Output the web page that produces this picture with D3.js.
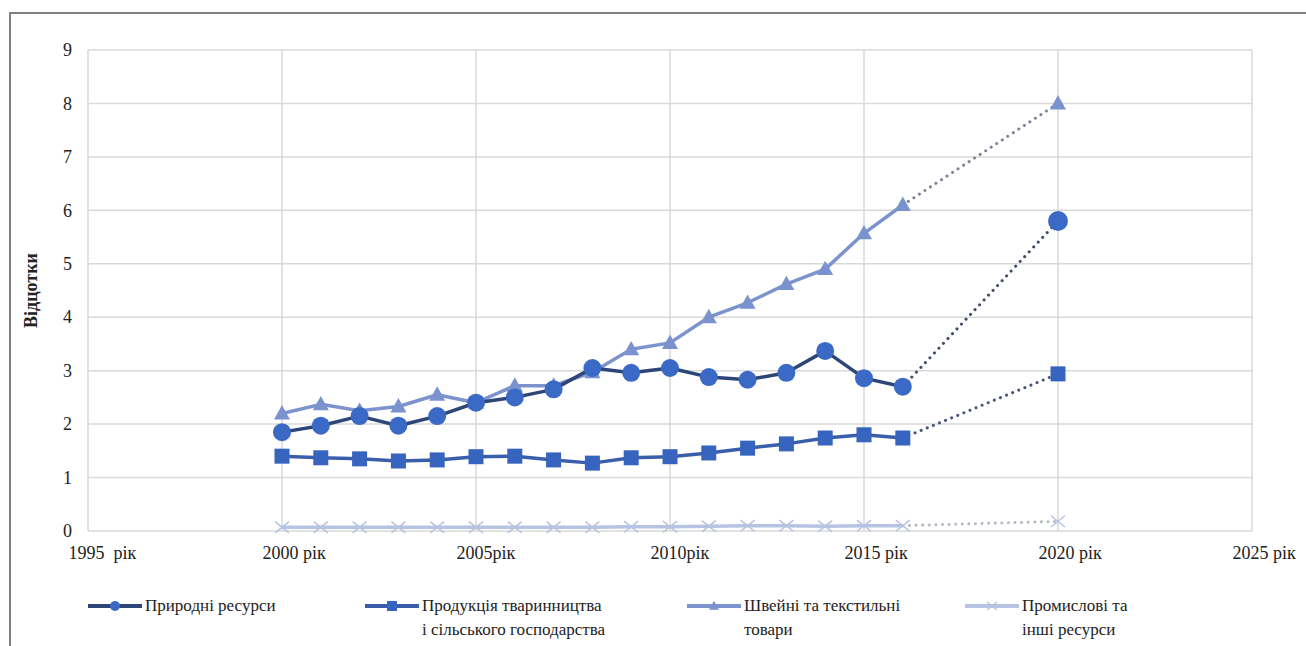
<!DOCTYPE html>
<html>
<head>
<meta charset="utf-8">
<script src="https://cdn.jsdelivr.net/npm/d3@7"></script>
</head>
<body style="margin:0;background:#fff">
<svg id="chart" width="1306" height="646" style="display:block;font-family:'Liberation Serif'"></svg>
<script>
// Observed years and the 2020 forecast point
const years = [2000, 2001, 2002, 2003, 2004, 2005, 2006, 2007, 2008, 2009, 2010, 2011, 2012, 2013, 2014, 2015, 2016];
const forecastYear = 2020;

// Shares, %
const naturalResources = [1.85, 1.97, 2.15, 1.97, 2.15, 2.4, 2.5, 2.65, 3.05, 2.96, 3.05, 2.88, 2.83, 2.96, 3.37, 2.86, 2.7];
const livestockAgri    = [1.40, 1.37, 1.35, 1.31, 1.33, 1.39, 1.40, 1.33, 1.27, 1.37, 1.39, 1.46, 1.55, 1.63, 1.74, 1.80, 1.74];
const textiles         = [2.2, 2.37, 2.25, 2.33, 2.55, 2.4, 2.72, 2.72, 2.97, 3.4, 3.52, 4.0, 4.27, 4.62, 4.9, 5.57, 6.1];
const industrialOther  = [0.07, 0.07, 0.07, 0.07, 0.07, 0.07, 0.07, 0.07, 0.07, 0.08, 0.08, 0.09, 0.1, 0.1, 0.09, 0.1, 0.1];
const forecast2020     = [5.8, 2.94, 8.0, 0.18];

const xTickYears  = [1995, 2000, 2005, 2010, 2015, 2020, 2025];
const xTickLabels = ["1995  рік", "2000 рік", "2005рік", "2010рік", "2015 рік", "2020 рік", "2025 рік"];
const yTicks = [0, 1, 2, 3, 4, 5, 6, 7, 8, 9];
const yTitle = "Відцотки";

const seriesNames = [
  ["Природні ресурси"],
  ["Продукція тваринництва", "і сільського господарства"],
  ["Швейні та текстильні", "товари"],
  ["Промислові та", "інші ресурси"]
];
const seriesValues = [naturalResources, livestockAgri, textiles, industrialOther];

const styles = [
  { line: "#2E4677", fill: "#3B69C6", dot: "#3F4C66", shape: "circle" },
  { line: "#3A5EAA", fill: "#3664BE", dot: "#47577A", shape: "square" },
  { line: "#7C93CD", fill: "#7A92CE", dot: "#7C8498", shape: "triangle" },
  { line: "#B6C3E2", fill: "#B6C3E2", dot: "#B3B8C4", shape: "cross" }
];

const FONT = "Liberation Serif";

const svg = d3.select("#chart");

// Outer frame (top and left edges)
svg.append("path")
  .attr("d", "M10,646 L10,13 L1306,13")
  .attr("fill", "none").attr("stroke", "#808080").attr("stroke-width", 2);

const plot = { left: 88, right: 1252, top: 50, bottom: 531 };
const x = d3.scaleLinear().domain([1995, 2025]).range([plot.left, plot.right]);
const y = d3.scaleLinear().domain([0, 9]).range([plot.bottom, plot.top]);

// Gridlines
const grid = svg.append("g");
grid.selectAll("line.h").data(yTicks).join("line")
  .attr("x1", plot.left).attr("x2", plot.right)
  .attr("y1", d => y(d)).attr("y2", d => y(d))
  .attr("stroke", "#d9d9d9").attr("stroke-width", 1.5);
grid.selectAll("line.v").data(xTickYears).join("line")
  .attr("x1", d => x(d)).attr("x2", d => x(d))
  .attr("y1", plot.top).attr("y2", plot.bottom)
  .attr("stroke", "#d9d9d9").attr("stroke-width", 1.5);

// Y axis labels
const yAxis = d3.axisLeft(y).tickValues(yTicks).tickSize(0).tickPadding(16).tickFormat(d3.format("d"));
const yg = svg.append("g").attr("transform", `translate(${plot.left},0)`).call(yAxis)
  .attr("font-family", FONT).attr("font-size", 18);
yg.select(".domain").remove();
yg.selectAll("text").attr("fill", "#222");

// X axis labels: year number sits over its gridline, "рік" trails it
const xAxis = d3.axisBottom(x).tickValues(xTickYears).tickSize(0).tickPadding(0)
  .tickFormat((d, i) => xTickLabels[i]);
const xg = svg.append("g").attr("transform", `translate(0,${plot.bottom})`).call(xAxis)
  .attr("font-family", FONT).attr("font-size", 18);
xg.select(".domain").remove();
xg.selectAll("text")
  .attr("text-anchor", "start").attr("dx", -20).attr("y", 28).attr("dy", 0)
  .attr("fill", "#222")
  .attr("xml:space", "preserve");

// Y title
svg.append("text")
  .attr("transform", `translate(37,${(plot.top + plot.bottom) / 2}) rotate(-90)`)
  .attr("text-anchor", "middle").attr("fill", "#222")
  .attr("font-family", FONT).attr("font-size", 18).attr("font-weight", "bold")
  .text(yTitle);

function drawMarker(g, shape, cx, cy, s, st) {
  if (shape === "circle") {
    g.append("circle").attr("cx", cx).attr("cy", cy).attr("r", s).attr("fill", st.fill);
  } else if (shape === "square") {
    g.append("rect").attr("x", cx - s).attr("y", cy - s).attr("width", 2 * s).attr("height", 2 * s).attr("fill", st.fill);
  } else if (shape === "triangle") {
    g.append("path").attr("d", `M${cx},${cy - s * 1.05} L${cx + s},${cy + s * 0.75} L${cx - s},${cy + s * 0.75} Z`).attr("fill", st.fill);
  } else {
    g.append("path").attr("d", `M${cx - s},${cy - s * 0.8} L${cx + s},${cy + s * 0.8} M${cx - s},${cy + s * 0.8} L${cx + s},${cy - s * 0.8}`)
      .attr("stroke", st.fill).attr("stroke-width", 1.5).attr("fill", "none");
  }
}

const markerSize = [9, 7.5, 8, 7];
const forecastSize = [10, 7.5, 8, 7];

const line = d3.line().x(d => x(d[0])).y(d => y(d[1]));

// Draw series back-to-front so natural resources sits on top
const order = [3, 1, 2, 0];
order.forEach(i => {
  const st = styles[i];
  const vals = seriesValues[i];
  const pts = years.map((yr, k) => [yr, vals[k]]);
  const g = svg.append("g");
  // dotted forecast segment
  g.append("path")
    .attr("d", line([pts[pts.length - 1], [forecastYear, forecast2020[i]]]))
    .attr("fill", "none").attr("stroke", st.dot).attr("stroke-width", 3)
    .attr("stroke-dasharray", "0.1 6.5").attr("stroke-linecap", "round");
  g.append("path").attr("d", line(pts))
    .attr("fill", "none").attr("stroke", st.line).attr("stroke-width", 3.5).attr("stroke-linejoin", "round");
  pts.forEach(p => drawMarker(g, st.shape, x(p[0]), y(p[1]), markerSize[i], st));
  drawMarker(g, st.shape, x(forecastYear), y(forecast2020[i]), forecastSize[i], st);
});

// Legend
const legendX = [88, 365, 687, 965];
const legendY = 606;
seriesNames.forEach((names, i) => {
  const st = styles[i];
  const g = svg.append("g");
  g.append("line").attr("x1", legendX[i]).attr("x2", legendX[i] + 54)
    .attr("y1", legendY).attr("y2", legendY)
    .attr("stroke", st.line).attr("stroke-width", 4);
  drawMarker(g, st.shape, legendX[i] + 27, legendY, 5, st);
  const t = g.append("text").attr("x", legendX[i] + 57).attr("y", legendY + 5)
    .attr("fill", "#222")
    .attr("font-family", FONT).attr("font-size", 17);
  names.forEach((n, k) => {
    t.append("tspan").attr("x", legendX[i] + 57).attr("dy", k === 0 ? 0 : 24).text(n);
  });
});
</script>
</body>
</html>
